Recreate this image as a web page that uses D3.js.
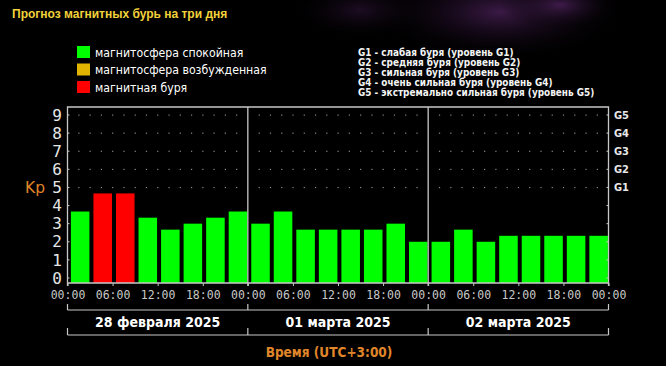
<!DOCTYPE html>
<html>
<head>
<meta charset="utf-8">
<script src="https://cdn.jsdelivr.net/npm/d3@7"></script>
<style>
  html, body { margin: 0; padding: 0; background: #000; }
  svg { display: block; }
</style>
</head>
<body>
<div id="chart"></div>
<script>
// Kp forecast, 3-hour intervals, three days
const days = ["28 февраля 2025", "01 марта 2025", "02 марта 2025"];
const kpValues = [
  3.67, 4.67, 4.67, 3.33, 2.67, 3.0, 3.33, 3.67,
  3.0, 3.67, 2.67, 2.67, 2.67, 2.67, 3.0, 2.0,
  2.0, 2.67, 2.0, 2.33, 2.33, 2.33, 2.33, 2.33
];
const kpTicks = [0, 1, 2, 3, 4, 5, 6, 7, 8, 9];
const gLevels = ["G1", "G2", "G3", "G4", "G5"];
const hourTicks = ["00:00", "06:00", "12:00", "18:00"];
const legendItems = [
  { label: "магнитосфера спокойная", color: "#00ff00" },
  { label: "магнитосфера возбужденная", color: "#e0b400" },
  { label: "магнитная буря", color: "#ff0000" }
];
const gLegend = [
  "G1 - слабая буря (уровень G1)",
  "G2 - средняя буря (уровень G2)",
  "G3 - сильная буря (уровень G3)",
  "G4 - очень сильная буря (уровень G4)",
  "G5 - экстремально сильная буря (уровень G5)"
];

const svgWidth = 666;
const svgHeight = 366;
const plot = { left: 67.5, right: 608.5, top: 107, bottom: 283 };

const svg = d3.select("#chart")
  .append("svg")
  .attr("width", svgWidth)
  .attr("height", svgHeight);

// background with faint purple glow
const defs = svg.append("defs");
const glow = defs.append("radialGradient").attr("id", "glow")
  .attr("cx", "0.5").attr("cy", "0.5").attr("r", "0.5");
glow.append("stop").attr("offset", "0%").attr("stop-color", "#4a2058").attr("stop-opacity", 0.8);
glow.append("stop").attr("offset", "100%").attr("stop-color", "#000").attr("stop-opacity", 0);

svg.append("rect").attr("width", svgWidth).attr("height", svgHeight).attr("fill", "#000");
svg.append("ellipse").attr("cx", 500).attr("cy", 12).attr("rx", 130).attr("ry", 50).attr("fill", "url(#glow)");
svg.append("ellipse").attr("cx", 560).attr("cy", 5).attr("rx", 60).attr("ry", 25).attr("fill", "url(#glow)");
svg.append("ellipse").attr("cx", 360).attr("cy", 10).attr("rx", 70).attr("ry", 30).attr("fill", "url(#glow)").attr("opacity", 0.5);

// title
svg.append("text")
  .attr("x", 12).attr("y", 18)
  .attr("font-family", "Liberation Sans, Arial, sans-serif")
  .attr("font-weight", "bold")
  .attr("font-size", 12)
  .attr("fill", "#f2d23a")
  .text("Прогноз магнитных бурь на три дня");

// left legend
const leg = svg.append("g").attr("transform", "translate(77,46)");
legendItems.forEach((d, i) => {
  leg.append("rect").attr("x", 0).attr("y", i * 17.5).attr("width", 13).attr("height", 12).attr("fill", d.color);
  leg.append("text").attr("x", 18).attr("y", i * 17.5 + 10.5)
    .attr("font-family", "DejaVu Sans Condensed, sans-serif")
    .attr("font-size", 12.2)
    .attr("fill", "#ffffff")
    .text(d.label);
});

// G legend
gLegend.forEach((t, i) => {
  svg.append("text").attr("x", 358).attr("y", 55.5 + i * 10.2)
    .attr("font-family", "DejaVu Sans Condensed, sans-serif")
    .attr("font-weight", "bold")
    .attr("font-size", 9.9)
    .attr("fill", "#f4f4f4")
    .text(t);
});

// scales
const xScale = d3.scaleLinear().domain([0, 72]).range([plot.left, plot.right]);
const yScale = d3.scaleLinear().domain([0, 9]).range([278, 115]);
const slot = xScale(3) - xScale(0);

// dotted grid rows for levels 5..9
const dotRows = kpTicks.filter(d => d >= 5);
const dotHours = d3.range(0, 72, 1.5).filter(h => h % 24 !== 0);
dotRows.forEach(level => {
  svg.append("g").selectAll("rect")
    .data(dotHours)
    .enter()
    .append("rect")
    .attr("x", h => xScale(h) - 0.5)
    .attr("y", yScale(level) - 0.5)
    .attr("width", 1.2).attr("height", 1.2)
    .attr("fill", "#8a8a8a");
});

// bars
const colorFor = v => v >= 4.5 ? "#ff0000" : (v >= 4 ? "#e0b400" : "#00ff00");
svg.append("g").selectAll("rect")
  .data(kpValues)
  .enter()
  .append("rect")
  .attr("x", (d, i) => xScale(i * 3) + 3.4)
  .attr("y", d => yScale(d))
  .attr("width", slot - 4)
  .attr("height", d => plot.bottom - yScale(d))
  .attr("fill", d => colorFor(d));

// frame
const frameColor = "#c8c8c8";
svg.append("path")
  .attr("d", `M${plot.left},${plot.bottom + 3}V${plot.top}H${plot.right}V${plot.bottom + 3}`)
  .attr("fill", "none").attr("stroke", frameColor).attr("stroke-width", 1.3);
svg.append("line")
  .attr("x1", plot.left).attr("x2", plot.right)
  .attr("y1", plot.bottom).attr("y2", plot.bottom)
  .attr("stroke", frameColor).attr("stroke-width", 1.3);
[24, 48].forEach(h => {
  svg.append("line")
    .attr("x1", xScale(h)).attr("x2", xScale(h))
    .attr("y1", plot.top).attr("y2", plot.bottom + 3)
    .attr("stroke", frameColor).attr("stroke-width", 1.3);
});

// small ticks on the inner sides at every level
kpTicks.forEach(v => {
  svg.append("line").attr("x1", plot.left).attr("x2", plot.left + 2)
    .attr("y1", yScale(v)).attr("y2", yScale(v)).attr("stroke", frameColor);
  svg.append("line").attr("x1", plot.right - 2).attr("x2", plot.right)
    .attr("y1", yScale(v)).attr("y2", yScale(v)).attr("stroke", frameColor);
});

// left axis labels
const yAxis = d3.axisLeft(yScale).tickValues(kpTicks).tickSize(0).tickPadding(0);
const yG = svg.append("g").attr("transform", "translate(62,0)").call(yAxis);
yG.select(".domain").remove();
yG.selectAll("text")
  .attr("font-family", "DejaVu Sans Mono, monospace")
  .attr("font-size", 16)
  .attr("fill", "#e6e6e6");

// right G labels
const gScale = d3.scaleOrdinal().domain(gLevels).range([5, 6, 7, 8, 9]);
svg.append("g").selectAll("text")
  .data(gLevels)
  .enter()
  .append("text")
  .attr("x", 614)
  .attr("y", d => yScale(gScale(d)))
  .attr("dy", "0.36em")
  .attr("font-family", "DejaVu Sans Condensed, sans-serif")
  .attr("font-weight", "bold")
  .attr("font-size", 11)
  .attr("fill", "#e8e8e8")
  .text(d => d);

// Kp label
svg.append("text")
  .attr("x", 35).attr("y", yScale(5))
  .attr("dy", "0.36em")
  .attr("text-anchor", "middle")
  .attr("font-family", "DejaVu Sans, sans-serif")
  .attr("font-size", 15.5)
  .attr("fill", "#e0862a")
  .text("Kp");

// bottom axis: hour labels every 6 hours
const hourValues = d3.range(0, 73, 6);
const xAxis = d3.axisBottom(xScale)
  .tickValues(hourValues)
  .tickSize(3)
  .tickPadding(5)
  .tickFormat(h => h === 72 ? hourTicks[0] : hourTicks[(h % 24) / 6]);
const xG = svg.append("g").attr("transform", `translate(0,${plot.bottom})`).call(xAxis);
xG.select(".domain").remove();
xG.selectAll("line").attr("stroke", frameColor);
xG.selectAll("text")
  .attr("font-family", "DejaVu Sans Mono, monospace")
  .attr("font-size", 11.5)
  .attr("fill", "#c8c8c8");

// day brackets
const dayEdges = [0, 24, 48, 72];
[[310, -6], [335, -7]].forEach(([y, len]) => {
  svg.append("line").attr("x1", xScale(0)).attr("x2", xScale(72))
    .attr("y1", y).attr("y2", y).attr("stroke", frameColor).attr("stroke-width", 1.2);
  dayEdges.forEach(h => {
    svg.append("line").attr("x1", xScale(h)).attr("x2", xScale(h))
      .attr("y1", y).attr("y2", y + len).attr("stroke", frameColor).attr("stroke-width", 1.2);
  });
});

svg.append("g").selectAll("text")
  .data(days)
  .enter()
  .append("text")
  .attr("x", (d, i) => xScale(i * 24 + 12))
  .attr("y", 327)
  .attr("text-anchor", "middle")
  .attr("font-family", "DejaVu Sans Condensed, sans-serif")
  .attr("font-weight", "bold")
  .attr("font-size", 14)
  .attr("fill", "#ffffff")
  .text(d => d);

// x title
svg.append("text")
  .attr("x", 329).attr("y", 357)
  .attr("text-anchor", "middle")
  .attr("font-family", "DejaVu Sans Condensed, sans-serif")
  .attr("font-weight", "bold")
  .attr("font-size", 13.5)
  .attr("fill", "#e0862a")
  .text("Время (UTC+3:00)");
</script>
</body>
</html>
